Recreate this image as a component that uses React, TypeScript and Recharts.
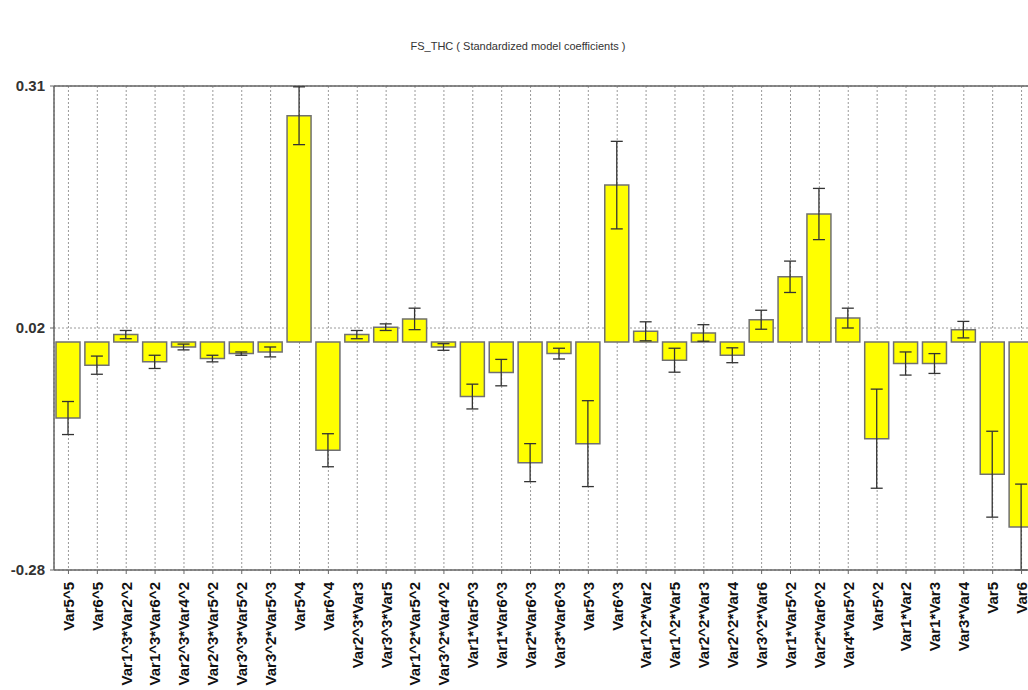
import {
  Bar,
  BarChart,
  CartesianGrid,
  ErrorBar,
  ReferenceLine,
  XAxis,
  YAxis
} from "recharts";

const categories = [
  "Var5^5", "Var6^5", "Var1^3*Var2^2", "Var1^3*Var6^2", "Var2^3*Var4^2", "Var2^3*Var5^2",
  "Var3^3*Var5^2", "Var3^2*Var5^3", "Var5^4", "Var6^4", "Var2^3*Var3", "Var3^3*Var5",
  "Var1^2*Var5^2", "Var3^2*Var4^2", "Var1*Var5^3", "Var1*Var6^3", "Var2*Var6^3", "Var3*Var6^3",
  "Var5^3", "Var6^3", "Var1^2*Var2", "Var1^2*Var5", "Var2^2*Var3", "Var2^2*Var4",
  "Var3^2*Var6", "Var1*Var5^2", "Var2*Var6^2", "Var4*Var5^2", "Var5^2", "Var1*Var2",
  "Var1*Var3", "Var3*Var4", "Var5", "Var6"
];

const coefficients = [
  -0.092, -0.028, 0.009, -0.024, -0.006, -0.02, -0.014, -0.012, 0.274, -0.131, 0.009, 0.018,
  0.028, -0.006, -0.066, -0.037, -0.146, -0.014, -0.123, 0.19, 0.013, -0.022, 0.011, -0.016,
  0.027, 0.079, 0.155, 0.029, -0.117, -0.026, -0.026, 0.015, -0.16, -0.224
];

const errors = [
  0.02, 0.011, 0.005, 0.008, 0.0035, 0.004, 0.002, 0.006, 0.035, 0.02, 0.005, 0.004,
  0.013, 0.004, 0.015, 0.016, 0.023, 0.0065, 0.052, 0.053, 0.0115, 0.0145, 0.01, 0.009,
  0.0115, 0.019, 0.031, 0.012, 0.06, 0.014, 0.012, 0.01, 0.052, 0.052
];

// axis ends and the middle grid line (labels are rounded to 2 decimals)
const yDomain = [-0.276, 0.31];
const yTicks = [-0.276, 0.017, 0.31];

const chartData = categories.map((name, i) => ({
  name,
  coef: coefficients[i],
  err: errors[i]
}));

const FONT = "'Liberation Sans', Arial, sans-serif";

function CategoryTick(props: any) {
  const { x, y, payload } = props;
  return (
    <text
      x={x}
      y={y}
      transform={`rotate(-90, ${x}, ${y})`}
      textAnchor="end"
      dy="0.36em"
      fontSize={15}
      fontWeight="bold"
      fill="#111"
      fontFamily={FONT}
    >
      {payload.value}
    </text>
  );
}

export default function App() {
  return (
    <div
      style={{
        position: "fixed",
        left: 0,
        top: 0,
        width: 1028,
        height: 690,
        overflow: "hidden",
        background: "#fff"
      }}
    >
      <div
        style={{
          position: "absolute",
          left: 0,
          width: 1036,
          top: 40,
          textAlign: "center",
          fontFamily: FONT,
          fontSize: 11,
          color: "#333"
        }}
      >
        FS_THC ( Standardized model coefficients )
      </div>
      <BarChart
        width={1040}
        height={690}
        data={chartData}
        margin={{ top: 86, right: 4, bottom: 0, left: 0 }}
      >
        <CartesianGrid stroke="#9a9a9a" strokeDasharray="2 2" />
        <XAxis
          dataKey="name"
          interval={0}
          height={120}
          tickSize={4}
          tickMargin={8}
          tick={<CategoryTick />}
          axisLine={{ stroke: "#666", strokeWidth: 1.5 }}
          tickLine={{ stroke: "#666" }}
        />
        <YAxis
          domain={yDomain}
          ticks={yTicks}
          allowDataOverflow
          width={54}
          tickSize={4}
          tickMargin={5}
          tickFormatter={(v) => Number(v).toFixed(2)}
          tick={{ fontSize: 15, fontWeight: "bold", fill: "#333", fontFamily: FONT }}
          axisLine={{ stroke: "#666", strokeWidth: 1.5 }}
          tickLine={{ stroke: "#666" }}
        />
        <ReferenceLine y={yDomain[1]} stroke="#666" strokeWidth={1.5} />
        <Bar
          dataKey="coef"
          fill="#ffff00"
          stroke="#707070"
          strokeWidth={1.5}
          barSize={24}
          isAnimationActive={false}
        >
          <ErrorBar dataKey="err" width={6} stroke="#333" strokeWidth={1.3} isAnimationActive={false} />
        </Bar>
      </BarChart>
    </div>
  );
}
